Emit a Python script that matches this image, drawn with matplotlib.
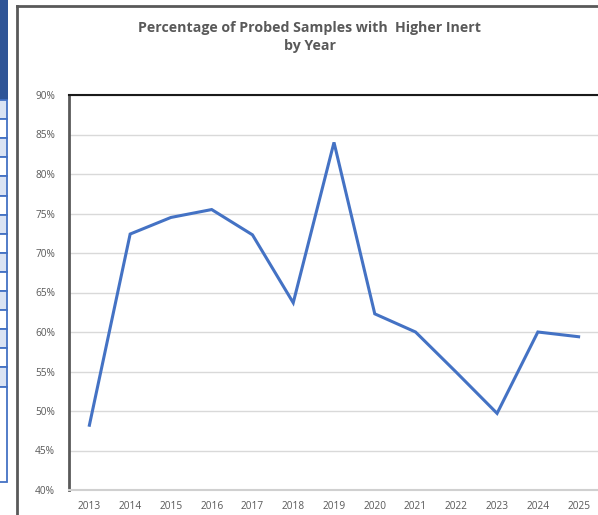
import matplotlib
matplotlib.use("Agg")
import matplotlib.pyplot as plt
from matplotlib.patches import Rectangle
from matplotlib.ticker import PercentFormatter

years = ["2013", "2014", "2015", "2016", "2017", "2018", "2019",
         "2020", "2021", "2022", "2023", "2024", "2025"]
values = [48.2, 72.4, 74.5, 75.5, 72.3, 63.7, 84.0,
          62.3, 60.0, 54.9, 49.7, 60.0, 59.4]
yticks = [40, 45, 50, 55, 60, 65, 70, 75, 80, 85, 90]
title = "Percentage of Probed Samples with  Higher Inert\nby Year"

W, H = 598, 515
fig = plt.figure(figsize=(W / 100, H / 100), dpi=100)
fig.patch.set_facecolor("white")

def fx(px):
    return px / W

def fy(py):
    return 1 - py / H

# spreadsheet strip at the left edge
fig.add_artist(Rectangle((fx(0), fy(100)), fx(8), 100 / H, transform=fig.transFigure,
                         facecolor="#2f5597", edgecolor="none"))
row_h = 19.1
for i in range(15):
    top = 100 + i * row_h
    fc = "#dae3f3" if i % 2 == 0 else "white"
    fig.add_artist(Rectangle((fx(-2), fy(top + row_h)), fx(9), row_h / H,
                             transform=fig.transFigure, facecolor=fc,
                             edgecolor="#4472c4", linewidth=1.3))
top = 100 + 15 * row_h
fig.add_artist(Rectangle((fx(-2), fy(482)), fx(9), (482 - top) / H,
                         transform=fig.transFigure, facecolor="white",
                         edgecolor="#4472c4", linewidth=1.3))

# chart frame
fig.add_artist(plt.Line2D([fx(16.5), fx(16.5)], [fy(5.5), fy(515)],
                          transform=fig.transFigure, color="#595959", lw=2))
fig.add_artist(plt.Line2D([fx(16.5), fx(600)], [fy(5.5), fy(5.5)],
                          transform=fig.transFigure, color="#595959", lw=2))

ax = fig.add_axes([fx(69), fy(490), fx(W - 69 + 1), (490 - 95) / H])
x = list(range(len(years)))
ax.plot(x, values, color="#4472c4", lw=2.2, solid_joinstyle="miter")
ax.set_xlim(-0.5, len(years) - 0.5)
ax.set_ylim(40, 90)
ax.set_yticks(yticks)
ax.yaxis.set_major_formatter(PercentFormatter(decimals=0))
ax.set_xticks(x)
ax.set_xticklabels(years)
ax.grid(axis="y", color="#d9d9d9", lw=1)
ax.set_axisbelow(True)
ax.tick_params(axis="both", length=0, labelsize=7.3, labelcolor="#595959")
ax.tick_params(axis="y", pad=10)
ax.tick_params(axis="x", pad=8)
for lbl in ax.get_xticklabels() + ax.get_yticklabels():
    lbl.set_fontfamily("Open Sans")
ax.spines["left"].set_color("#595959")
ax.spines["left"].set_linewidth(2)
ax.spines["top"].set_color("#1a1a1a")
ax.spines["top"].set_linewidth(1.5)
ax.spines["bottom"].set_color("#d0d0d0")
ax.spines["bottom"].set_linewidth(1.5)
ax.spines["right"].set_visible(False)

fig.text(fx(310), fy(37), title, ha="center", va="center", fontsize=10.2,
         fontweight="bold", color="#595959", family="Open Sans", linespacing=1.45)

fig.savefig("out.png", dpi=100)
